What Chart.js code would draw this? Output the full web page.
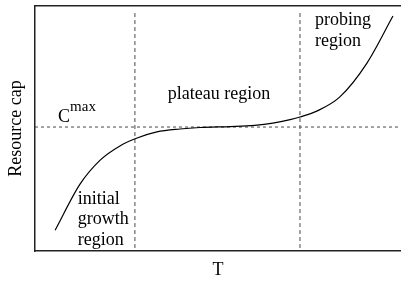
<!DOCTYPE html>
<html>
<head>
<meta charset="utf-8">
<script src="https://cdn.jsdelivr.net/npm/chart.js@4.4.1/dist/chart.umd.min.js"></script>
<style>
html,body{margin:0;padding:0;background:#fff;overflow:hidden;}
#wrap{width:401px;height:281px;position:relative;}
</style>
</head>
<body>
<div id="wrap"><canvas id="c"></canvas></div>
<script>
// curve (T, resource cap), axes run 0..10
const curveT=[0.55,1.23,1.78,2.32,2.79,3.33,3.96,4.51,5.33,6.0,6.5,7.0,7.24,7.70,8.33,9.07,9.78];
const curveCap=[0.85,2.73,3.71,4.29,4.61,4.86,4.98,5.04,5.08,5.13,5.22,5.37,5.47,5.71,6.29,7.67,9.59];
const cMax=5.06;
const regionBounds=[2.73,7.24];
const dashSpan=[0.12,9.8];
const labels=[
  {lines:["plateau region"],x:3.63,y:6.20},
  {lines:["probing","region"],x:7.65,y:9.22},
  {lines:["initial","growth","region"],x:1.17,y:1.92}
];
const SERIF="'Liberation Serif','DejaVu Serif',serif";
const DASH="#4a4a4a";

const curve=curveT.map((t,i)=>({x:t,y:curveCap[i]}));
function dashDs(pts,dash){
  return{data:pts,showLine:true,borderColor:DASH,borderWidth:1,borderDash:dash,pointRadius:0,fill:false};
}
const datasets=[
  {data:curve,showLine:true,borderColor:"#000",borderWidth:1.2,pointRadius:0,fill:false,cubicInterpolationMode:"monotone"},
  dashDs([{x:0,y:cMax},{x:10,y:cMax}],[3,3]),
  ...regionBounds.map(b=>dashDs([{x:b,y:dashSpan[0]},{x:b,y:dashSpan[1]}],[4,3]))
];

const textPlugin={
  id:"texts",
  afterDatasetsDraw(chart){
    const {ctx,scales:{x,y}}=chart;
    ctx.save();
    ctx.fillStyle="#000";
    ctx.textBaseline="alphabetic";
    ctx.textAlign="left";
    ctx.font="18px "+SERIF;
    labels.forEach(l=>{
      const px=x.getPixelForValue(l.x);
      const py=y.getPixelForValue(l.y);
      l.lines.forEach((s,i)=>ctx.fillText(s,px,py+i*20.5));
    });
    // C^max
    const cx=x.getPixelForValue(0.63),cy=y.getPixelForValue(5.27);
    ctx.fillText("C",cx,cy);
    const w=ctx.measureText("C").width;
    ctx.font="15px "+SERIF;
    ctx.fillText("max",cx+w,cy-11);
    ctx.restore();
  }
};

new Chart(document.getElementById("c"),{
  type:"scatter",
  data:{datasets},
  options:{
    responsive:true,maintainAspectRatio:false,animation:false,
    layout:{padding:{left:0,top:6,right:0,bottom:0}},
    plugins:{legend:{display:false},tooltip:{enabled:false}},
    scales:{
      x:{type:"linear",min:0,max:10,position:"bottom",
        grid:{display:false,drawTicks:false},ticks:{display:false},
        border:{display:true,color:"#222",width:1.5},
        title:{display:true,text:"T",color:"#000",font:{family:SERIF,size:18},padding:{top:8.4,bottom:0}}},
      x2:{type:"linear",min:0,max:10,position:"top",
        grid:{display:false,drawTicks:false},ticks:{display:false},
        border:{display:true,color:"#222",width:1.5}},
      y:{type:"linear",min:0,max:10,
        grid:{display:false,drawTicks:false},ticks:{display:false},
        border:{display:true,color:"#222",width:1.5},
        title:{display:true,text:"Resource cap",color:"#000",font:{family:SERIF,size:18},padding:{top:5,bottom:8.4}}}
    }
  },
  plugins:[textPlugin]
});
</script>
</body>
</html>
